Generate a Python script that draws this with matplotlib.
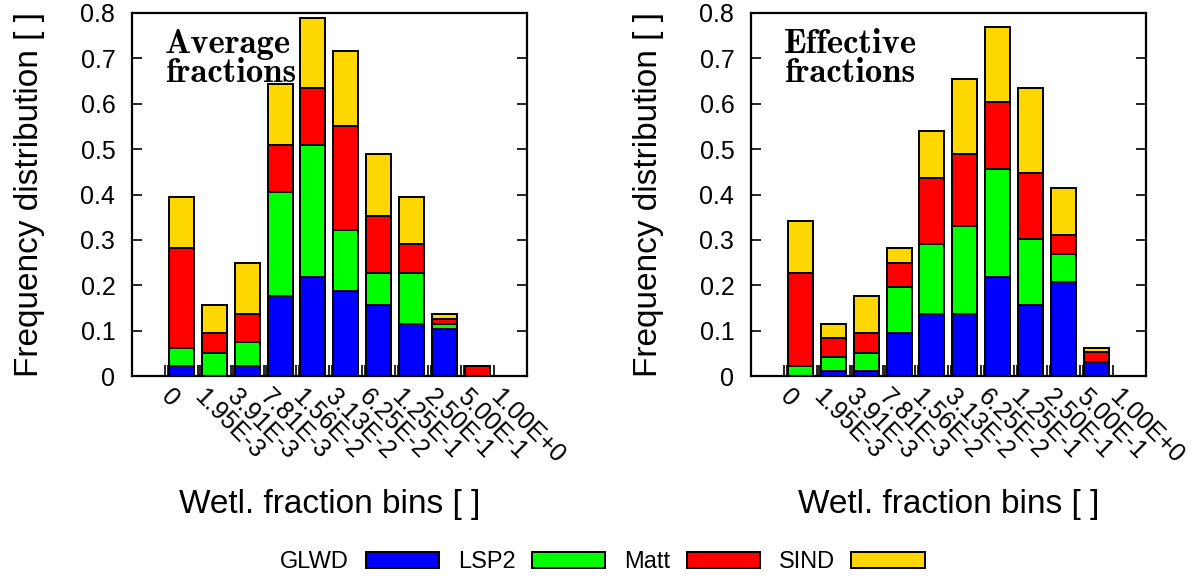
import matplotlib
matplotlib.use('Agg')
import matplotlib.pyplot as plt
import numpy as np

plt.rcParams['font.family'] = ['Liberation Sans', 'DejaVu Sans']

# ---------------- data ----------------
bin_labels = ["0", "1.95E-3", "3.91E-3", "7.81E-3", "1.56E-2", "3.13E-2",
              "6.25E-2", "1.25E-1", "2.50E-1", "5.00E-1", "1.00E+0"]
series_names = ["GLWD", "LSP2", "Matt", "SIND"]
series_colors = ["#0000ff", "#00ff00", "#ff0000", "#ffd700"]
y_tick_labels = ["0", "0.1", "0.2", "0.3", "0.4", "0.5", "0.6", "0.7", "0.8"]

avg_glwd = [0.021, 0.000, 0.021, 0.177, 0.219, 0.187, 0.156, 0.115, 0.104, 0.000]
avg_lsp2 = [0.041, 0.051, 0.053, 0.228, 0.290, 0.135, 0.072, 0.113, 0.011, 0.000]
avg_matt = [0.219, 0.043, 0.063, 0.104, 0.125, 0.229, 0.125, 0.062, 0.010, 0.021]
avg_sind = [0.114, 0.062, 0.112, 0.135, 0.156, 0.166, 0.136, 0.105, 0.011, 0.000]

eff_glwd = [0.000, 0.011, 0.011, 0.094, 0.136, 0.136, 0.219, 0.156, 0.208, 0.031]
eff_lsp2 = [0.021, 0.030, 0.040, 0.103, 0.154, 0.195, 0.237, 0.146, 0.061, 0.000]
eff_matt = [0.207, 0.042, 0.043, 0.051, 0.147, 0.158, 0.147, 0.145, 0.042, 0.021]
eff_sind = [0.114, 0.032, 0.083, 0.033, 0.103, 0.166, 0.167, 0.187, 0.104, 0.010]

panels = [
    ("Average\nfractions", [avg_glwd, avg_lsp2, avg_matt, avg_sind]),
    ("Effective\nfractions", [eff_glwd, eff_lsp2, eff_matt, eff_sind]),
]

# ---------------- figure ----------------
W, H = 1193, 579
fig = plt.figure(figsize=(W / 100, H / 100), dpi=100)

ax_w = (526.7 - 132) / W
ax_h = 363 / H
ax_b = 1 - 376 / H
lefts = [132 / W, 751 / W]

handles = None
for (title, data), left in zip(panels, lefts):
    ax = fig.add_axes([left, ax_b, ax_w, ax_h])
    n = len(data[0])
    x = np.arange(n)
    bottom = np.zeros(n)
    hs = []
    for vals, col, name in zip(data, series_colors, series_names):
        vals = np.array(vals)
        b = ax.bar(x, vals, width=0.76, bottom=bottom, color=col,
                   edgecolor='black', linewidth=1.4, label=name, zorder=2)
        hs.append(b)
        bottom = bottom + vals
    handles = hs

    ax.set_xlim(-1.5, n - 0.5 + 1.0)
    ax.set_ylim(0, 0.8)

    edges = np.arange(n + 1) - 0.5
    ax.set_xticks(edges)
    ax.set_xticklabels(bin_labels, rotation=-45, ha='left', va='center',
                       rotation_mode='anchor', fontsize=18)
    ax.set_xticks(edges[:-1] + 0.08, minor=True)
    ax.tick_params(axis='x', which='both', direction='in', length=8,
                   width=1.2, top=False, pad=12)

    ax.set_yticks(np.arange(0, 0.81, 0.1))
    ax.set_yticklabels(y_tick_labels, fontsize=18)
    ax.tick_params(axis='y', direction='in', length=7, width=1.2,
                   right=True, pad=12)

    for sp in ax.spines.values():
        sp.set_linewidth(1.6)

    ax.set_ylabel("Frequency distribution [ ]", fontsize=24)
    ax.yaxis.set_label_coords(-0.22, 0.5)
    ax.set_xlabel("Wetl. fraction bins [ ]", fontsize=24)
    ax.xaxis.set_label_coords(0.5, -0.31)

    ax.text(0.084, 0.955, title, transform=ax.transAxes, ha='left', va='top',
            fontsize=25, family='cmb10', linespacing=0.9, zorder=3)

fig.legend(handles, series_names, loc='center', bbox_to_anchor=(0.505, 0.029),
           ncol=4, markerfirst=False, frameon=False, fontsize=17,
           handlelength=3.1, handleheight=0.66, handletextpad=0.7,
           columnspacing=0.8)

fig.savefig("out.png", dpi=100)
